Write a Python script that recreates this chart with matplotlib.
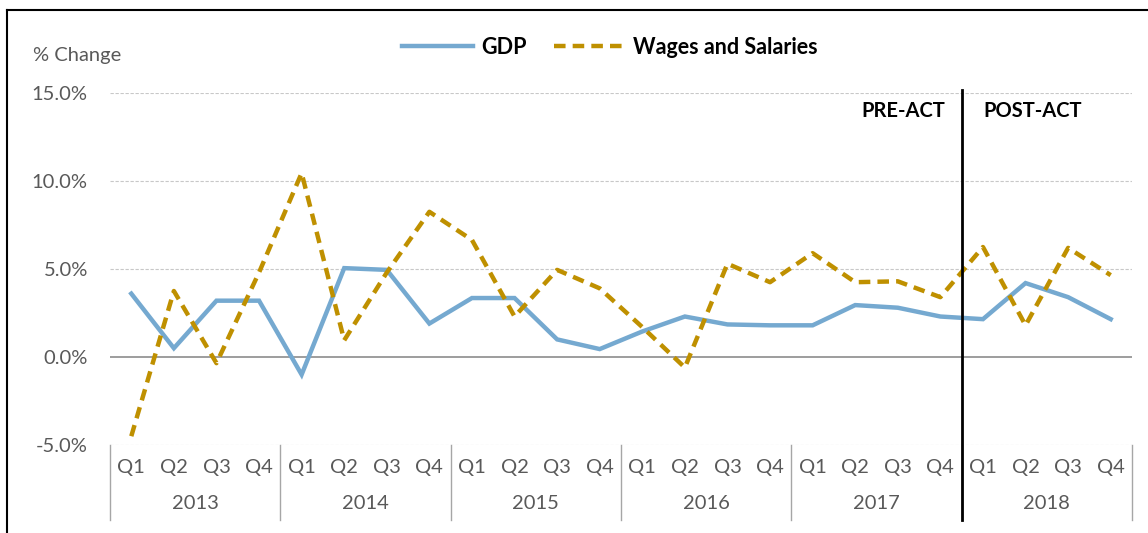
import matplotlib
matplotlib.use('Agg')
import matplotlib.pyplot as plt
import matplotlib.transforms as mtransforms
from matplotlib.ticker import FuncFormatter

plt.rcParams['font.family'] = ['Lato', 'DejaVu Sans']

years = ['2013', '2014', '2015', '2016', '2017', '2018']
quarters = ['Q1', 'Q2', 'Q3', 'Q4']

gdp = [3.6, 0.5, 3.2, 3.2,
       -1.0, 5.05, 4.95, 1.9,
       3.35, 3.35, 1.0, 0.45,
       1.45, 2.3, 1.85, 1.8,
       1.8, 2.95, 2.8, 2.3,
       2.15, 4.2, 3.4, 2.15]
wages = [-4.5, 3.75, -0.35, 4.8,
         10.45, 0.95, 4.8, 8.25,
         6.65, 2.3, 4.95, 3.9,
         1.7, -0.6, 5.3, 4.25,
         5.9, 4.25, 4.3, 3.4,
         6.25, 1.8, 6.2, 4.65]

act_split = 19.5  # between 2017 Q4 and 2018 Q1

blue = '#75A9D0'
gold = '#BF9000'
grey_txt = '#595959'
fs = 14.5

fig = plt.figure(figsize=(11.48, 5.33), dpi=100)
ax = fig.add_axes([110/1148, 88/533, 1022/1148, 352/533])

x = list(range(len(gdp)))
ax.plot(x, gdp, color=blue, linewidth=3.2, label='GDP', solid_joinstyle='miter')
ax.plot(x, wages, color=gold, linewidth=3.2, dashes=(2.6, 1.6), label='Wages and Salaries')

ax.set_xlim(-0.5, len(gdp) - 0.5)
ax.set_ylim(-5, 15)
ax.set_yticks([-5, 0, 5, 10, 15])
ax.yaxis.set_major_formatter(FuncFormatter(lambda v, p: f'{v:.1f}%'))
ax.tick_params(axis='y', length=0, pad=16, labelsize=fs, labelcolor=grey_txt)
ax.set_xticks([])
for sp in ax.spines.values():
    sp.set_visible(False)

for v in [-5, 5, 10, 15]:
    ax.axhline(v, color='#C8C8C8', linewidth=0.8, linestyle=(0, (3, 1.5)), zorder=0)
ax.axhline(0, color='#8C8C8C', linewidth=1.2, zorder=1)

# category axis: quarters and years
trans = mtransforms.blended_transform_factory(ax.transData, ax.transAxes)
for yi, yr in enumerate(years):
    for qi, q in enumerate(quarters):
        ax.text(yi * 4 + qi, -0.065, q, transform=trans, ha='center', va='center',
                fontsize=fs, color=grey_txt)
    ax.text(yi * 4 + 1.5, -0.165, yr, transform=trans, ha='center', va='center',
            fontsize=fs, color=grey_txt)
for b in range(len(years) + 1):
    ax.plot([b * 4 - 0.5, b * 4 - 0.5], [0, -0.213], transform=trans, color='#A6A6A6',
            linewidth=1, clip_on=False)

# act divider
ax.plot([act_split, act_split], [1.008, -0.213], transform=trans, color='black',
        linewidth=2, clip_on=False, zorder=5)
ax.text(act_split - 0.4, 0.95, 'PRE-ACT', transform=trans, ha='right', va='center',
        fontsize=fs, fontweight='bold')
ax.text(act_split + 0.5, 0.95, 'POST-ACT', transform=trans, ha='left', va='center',
        fontsize=fs, fontweight='bold')

fig.text(33/1148, 1 - 55/533, '% Change', ha='left', va='center', fontsize=fs, color=grey_txt)

leg = fig.legend(loc='center', bbox_to_anchor=(610/1148, 1 - 47/533), ncol=2, frameon=False,
                 handlelength=3.3, columnspacing=1.3, handletextpad=0.35,
                 prop={'size': 15.5, 'weight': 'bold'})

# outer border (cropped on right and bottom)
fig.add_artist(plt.Line2D([7/1148, 1.01], [1 - 10/533, 1 - 10/533], color='black', linewidth=1.5))
fig.add_artist(plt.Line2D([7/1148, 7/1148], [1 - 10/533, -0.01], color='black', linewidth=1.5))

fig.savefig('out.png', dpi=100)
